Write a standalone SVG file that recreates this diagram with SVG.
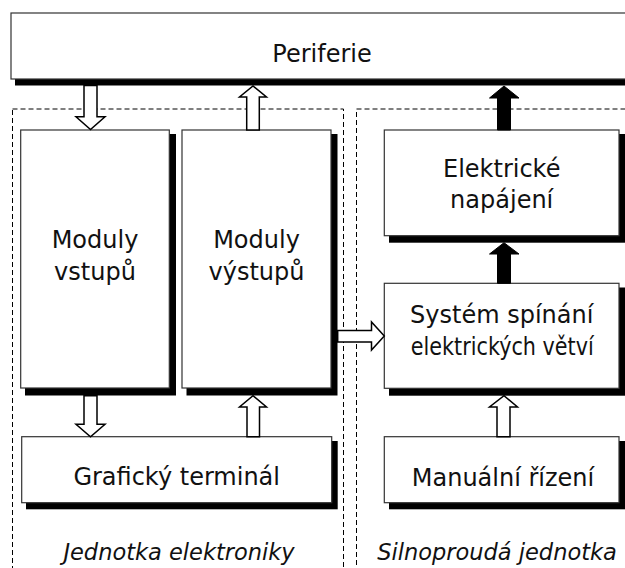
<svg xmlns="http://www.w3.org/2000/svg" width="625" height="568" viewBox="0 0 625 568">
<style>
.region{fill:none;stroke:#000;stroke-width:1;stroke-dasharray:5 3}
.shadow{fill:#000}
.box{fill:#fff;stroke:#333;stroke-width:1.2}
.t{font-family:"DejaVu Sans",sans-serif;font-size:24px;fill:#111;text-anchor:middle}
.it{font-family:"DejaVu Sans",sans-serif;font-size:22.5px;font-style:italic;fill:#111;text-anchor:middle}
.ha{fill:#fff;stroke:#000;stroke-width:1.5;stroke-linejoin:miter}
.fa{fill:#000;stroke:#000;stroke-width:1}
</style>
<rect width="625" height="568" fill="#fff"/>
<g id="regions">
<rect class="region" x="12.5" y="109" width="331" height="480"/>
<rect class="region" x="356.5" y="109" width="300" height="480"/>
</g>
<g id="periferie">
<rect class="shadow" x="15" y="17" width="630" height="68.5"/>
<rect class="box" x="11" y="13" width="630" height="66"/>
<text class="t" x="322" y="62">Periferie</text>
</g>
<g id="moduly-vstupu">
<rect class="shadow" x="25" y="134" width="151" height="261.5"/>
<rect class="box" x="20.7" y="130" width="148.6" height="258"/>
<text class="t" x="95" y="248.3">Moduly</text>
<text class="t" x="95" y="280">vstupů</text>
</g>
<g id="moduly-vystupu">
<rect class="shadow" x="186.5" y="134" width="151" height="261.5"/>
<rect class="box" x="182" y="130" width="149" height="258"/>
<text class="t" x="256.5" y="248.3">Moduly</text>
<text class="t" x="256.5" y="280">výstupů</text>
</g>
<g id="graficky-terminal">
<rect class="shadow" x="26" y="441" width="311.7" height="68.3"/>
<rect class="box" x="21.7" y="436.7" width="310" height="66"/>
<text class="t" x="176.7" y="485">Grafický terminál</text>
</g>
<g id="elektricke-napajeni">
<rect class="shadow" x="389" y="134" width="240" height="108.7"/>
<rect class="box" x="384.3" y="130" width="234.7" height="105.7"/>
<text class="t" x="501.7" y="176.7">Elektrické</text>
<text class="t" x="501.7" y="208.3">napájení</text>
</g>
<g id="system-spinani">
<rect class="shadow" x="389" y="287.5" width="240" height="108.2"/>
<rect class="box" x="384.3" y="283.3" width="234.7" height="105"/>
<text class="t" x="501.7" y="323.3">Systém spínání</text>
<text class="t" x="502.3" y="355" textLength="183" lengthAdjust="spacingAndGlyphs">elektrických větví</text>
</g>
<g id="manualni-rizeni">
<rect class="shadow" x="389" y="441" width="240" height="68.3"/>
<rect class="box" x="384.3" y="436.7" width="234.7" height="66"/>
<text class="t" x="503" y="486">Manuální řízení</text>
</g>
<g id="labels">
<text class="it" x="179" y="560">Jednotka elektroniky</text>
<text class="it" x="497" y="560">Silnoproudá jednotka</text>
</g>
<g id="connectors">
<polygon class="ha" points="84,85.5 97,85.5 97,116.7 105,116.7 90.5,129.5 76,116.7 84,116.7"/>
<polygon class="ha" points="246.7,130 259.3,130 259.3,97 266.5,97 253,86 239.5,97 246.7,97"/>
<polygon class="fa" points="497.5,130 510.5,130 510.5,98 519,98 504,86 489.5,98 497.5,98"/>
<polygon class="fa" points="497.5,283.3 510.5,283.3 510.5,254 519,254 504,242.7 489.5,254 497.5,254"/>
<polygon class="ha" points="497,436.7 510,436.7 510,407 517.5,407 504,395.7 489.5,407 497,407"/>
<polygon class="ha" points="84,395.7 97,395.7 97,424.3 105,424.3 90.5,436.7 76,424.3 84,424.3"/>
<polygon class="ha" points="247,436.7 259.5,436.7 259.5,407 266.5,407 253,395.7 239.5,407 247,407"/>
<polygon class="ha" points="337.7,330.5 371.5,330.5 371.5,322 384.3,336 371.5,350 371.5,342 337.7,342"/>
</g>
</svg>
